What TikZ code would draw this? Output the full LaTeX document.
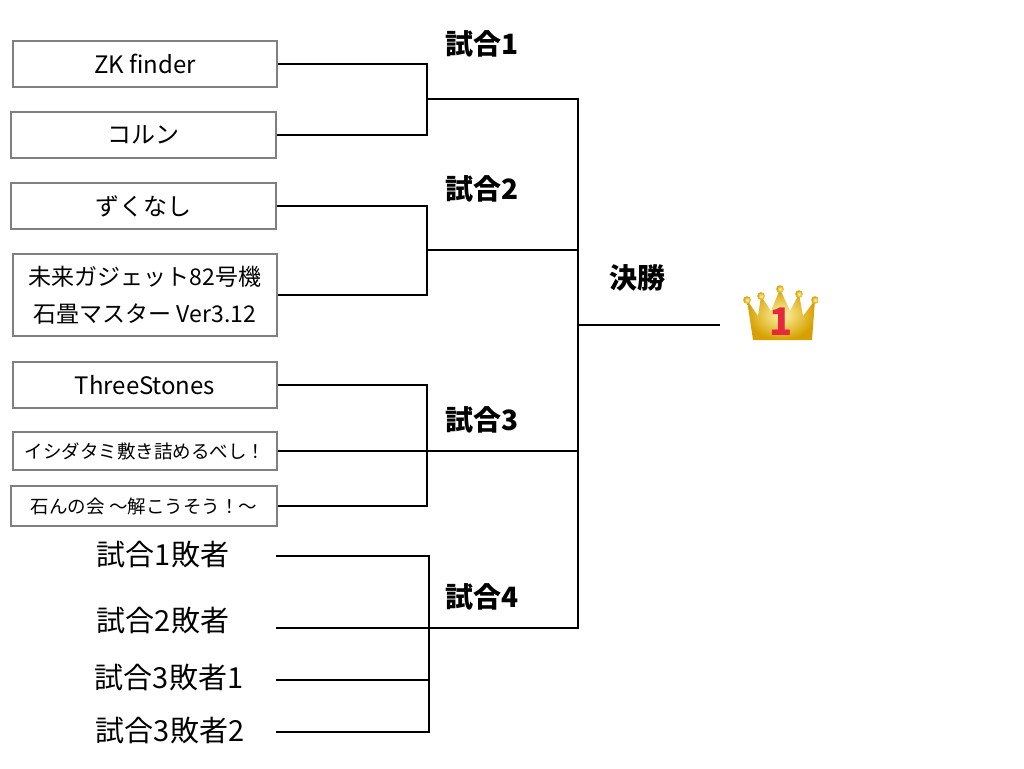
\documentclass[tikz,border=0pt]{standalone}
\usepackage{fontspec}
\setmainfont{Noto Sans CJK JP}
\definecolor{boxgray}{RGB}{128,128,128}
\definecolor{golddark}{RGB}{214,160,0}
\definecolor{goldlight}{RGB}{255,246,170}
\definecolor{onered}{RGB}{230,40,60}
\tikzset{
	team/.style={draw=boxgray, line width=1.8pt, minimum width=264pt, minimum height=46pt, inner sep=0pt, font=\fontsize{24}{37}\selectfont},
	match/.style={font=\bfseries\fontsize{28}{28}\selectfont},
	loser/.style={font=\fontsize{29}{29}\selectfont}
}

\begin{document}
\begin{tikzpicture}[x=1pt, y=-1pt, line width=1.6pt]
		\useasboundingbox (0,0) rectangle (1024,768);

		\node[team] (zk) at (145,64) {ZK finder};
		\node[team, minimum width=265pt] (koru) at (143.5,135) {コルン};
		\node[team, minimum width=265pt] (zuku) at (143.5,206) {ずくなし};
		\node[team, minimum height=82pt, align=center, font=\fontsize{23}{37}\selectfont] (mirai) at (145,295) {未来ガジェット82号機\\石畳マスター Ver3.12};
		\node[team] (three) at (145,385) {ThreeStones};
		\node[team, minimum height=38pt, font=\fontsize{18.5}{22}\selectfont] (ishi) at (145,451) {イシダタミ敷き詰めるべし！};
		\node[team, minimum width=266pt, minimum height=40pt, font=\fontsize{18.5}{22}\selectfont] (ishin) at (144,506) {石んの会 〜解こうそう！〜};

		\node[match] (m1label) at (482,44) {試合1};
		\node[match] (m2label) at (482,189) {試合2};
		\node[match] (m3label) at (482,420) {試合3};
		\node[match] (m4label) at (482,597) {試合4};
		\node[match] (finlabel) at (637,278) {決勝};

		\node[loser] (lose1) at (163,554) {試合1敗者};
		\node[loser] (lose2) at (163,620) {試合2敗者};
		\node[loser] (lose3) at (169,677) {試合3敗者1};
		\node[loser] (lose4) at (170,730) {試合3敗者2};

		\coordinate (m1) at (427,99);
		\coordinate (m2) at (427,250);
		\coordinate (m3) at (427,451);
		\coordinate (m4) at (429,628);
		\coordinate (fin) at (578,325);
		\coordinate (champ) at (720,325);
		\coordinate (s1) at (276,556);
		\coordinate (s2) at (276,628);
		\coordinate (s3) at (276,680);
		\coordinate (s4) at (276,732);

		\draw (zk.east) -| (m1) |- (koru.east);
		\draw (zuku.east) -| (m2) |- (mirai.east);
		\draw (three.east) -| (m3) |- (ishin.east);
		\draw (m1) -| (fin);
		\draw (m2) -| (fin);
		\draw (ishi.east) -| (fin);

		\draw (s1) -| (m4) |- (s4);
		\draw (s3) -- (s3 -| m4);
		\draw (s2) -| (fin);

		\draw (fin) -- (champ);

		% crown
		\shade[inner color=goldlight, outer color=golddark] (753,340) -- (747,300) -- (758,316) -- (761,296) -- (771,311) -- (780,289) -- (790,311) -- (799,294) -- (803,316) -- (815,300) -- (812,340) -- cycle;
		\shade[inner color=goldlight, outer color=golddark] (747,300) circle (3.8);
		\shade[inner color=goldlight, outer color=golddark] (761,296) circle (3.8);
		\shade[inner color=goldlight, outer color=golddark] (780,289) circle (3.8);
		\shade[inner color=goldlight, outer color=golddark] (799,294) circle (3.8);
		\shade[inner color=goldlight, outer color=golddark] (815,300) circle (3.8);
		\node[text=onered, font=\bfseries\fontsize{38}{38}\selectfont] (one) at (781,322) {1};
	\end{tikzpicture}
\end{document}
